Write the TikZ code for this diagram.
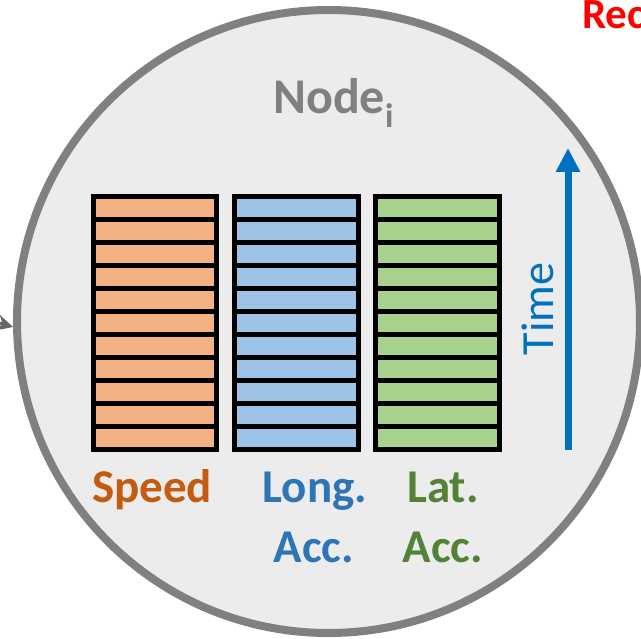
\documentclass[tikz,border=0pt]{standalone}
\usepackage{fontspec}
\setmainfont{Carlito}
\usetikzlibrary{arrows.meta}
\definecolor{ringgray}{HTML}{808080}
\definecolor{ringfill}{HTML}{ECECEC}
\definecolor{cellorange}{HTML}{F4B183}
\definecolor{cellblue}{HTML}{9DC3E6}
\definecolor{cellgreen}{HTML}{A9D18E}
\definecolor{txtorange}{HTML}{C55A11}
\definecolor{txtblue}{HTML}{2E75B6}
\definecolor{txtgreen}{HTML}{538135}
\definecolor{timeblue}{HTML}{0070C0}
\tikzset{
  cell/.style={draw=black, line width=5pt},
  label/.style={font=\fontsize{47}{47}\selectfont\bfseries, anchor=base, inner sep=0pt},
}
\begin{document}
\begin{tikzpicture}[x=1pt, y=-1pt]
\useasboundingbox (0,0) rectangle (641,639);
% the node circle
\node[circle, draw=ringgray, fill=ringfill, line width=8pt, minimum size=623pt, inner sep=0pt] (ring) at (328.5,321.5) {};
% incoming connector at the left
\coordinate (src) at (-40,312);
\draw[ringgray!80!black, line width=3pt, -{Stealth[length=16pt,width=16pt]}] (src) -- (ring.181);
% title
\node[anchor=base west, inner sep=0pt, text=ringgray, font=\fontsize{50}{50}\selectfont\bfseries] (title) at (273,114) {Node\raisebox{-14pt}{\fontsize{34}{34}\selectfont i}};
% cut-off heading at the top right
\node[anchor=base west, inner sep=0pt, text=red, font=\fontsize{43}{43}\selectfont\bfseries] (rec) at (582,29) {Rec};
% three columns of sample cells
\foreach \xa/\xb/\col in {93.5/216.5/cellorange, 234.5/358.5/cellblue, 375.5/499.5/cellgreen}{
  \foreach \k in {0,...,10}{
    \draw[cell, fill=\col] (\xa,196.5+23*\k) rectangle (\xb,219.5+23*\k);
  }
}
% column labels
\node[label, text=txtorange] (speed) at (152,503) {Speed};
\node[label, text=txtblue] (long) at (315,503) {Long.};
\node[label, text=txtblue] (acc1) at (314,562) {Acc.};
\node[label, text=txtgreen] (lat) at (443,503) {Lat.};
\node[label, text=txtgreen] (acc2) at (443,562) {Acc.};
% time axis
\coordinate (tstart) at (568,450);
\coordinate (tend) at (568,148);
\draw[timeblue, line width=7pt, -{Triangle[length=24pt,width=23pt]}] (tstart) -- (tend);
\node[rotate=90, text=timeblue, font=\fontsize{46}{46}\selectfont, inner sep=0pt] (time) at (538,309) {Time};
\end{tikzpicture}
\end{document}
